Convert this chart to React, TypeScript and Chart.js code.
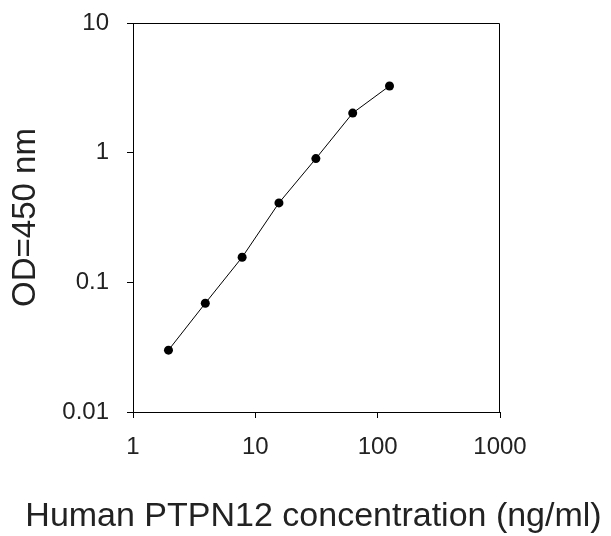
import React, { useEffect, useRef } from "react";
import { Chart, registerables } from "chart.js";

Chart.register(...registerables);

const concentrations = [1.95, 3.9, 7.8, 15.6, 31.25, 62.5, 125];
const odValues = [0.03, 0.069, 0.156, 0.41, 0.9, 2.02, 3.27];
const xTickValues = [1, 10, 100, 1000];
const yTickValues = [0.01, 0.1, 1, 10];
const xTitle = "Human PTPN12 concentration (ng/ml)";
const yTitle = "OD=450 nm";

const FONT = "Arial, 'Liberation Sans', Helvetica, sans-serif";

const framePlugin = {
  id: "frameBox",
  afterDraw(chart: any) {
    const { ctx, chartArea } = chart;
    const { left, right, top, bottom } = chartArea;
    ctx.save();
    ctx.strokeStyle = "#000";
    ctx.lineWidth = 1;
    ctx.beginPath();
    ctx.moveTo(Math.round(left) + 0.5, Math.round(top) + 0.5);
    ctx.lineTo(Math.round(right) - 0.5, Math.round(top) + 0.5);
    ctx.lineTo(Math.round(right) - 0.5, Math.round(bottom) + 0.5);
    ctx.stroke();
    ctx.restore();
  },
};

// Wide x-axis title: Chart.js clamps the scale title to the scale width,
// so the (wider) title is drawn here, centred on the canvas.
const xTitlePlugin = {
  id: "wideXTitle",
  afterDraw(chart: any) {
    const { ctx, width } = chart;
    ctx.save();
    ctx.fillStyle = "#222";
    ctx.font = `34px ${FONT}`;
    ctx.textAlign = "center";
    ctx.textBaseline = "alphabetic";
    ctx.fillText(xTitle, width / 2 + 8, 526);
    ctx.restore();
  },
};

export default function App() {
  const ref = useRef<HTMLCanvasElement | null>(null);

  useEffect(() => {
    if (!ref.current) return;
    const points = concentrations.map((c, i) => ({ x: c, y: odValues[i] }));
    const chart = new Chart(ref.current, {
      type: "line",
      data: {
        datasets: [
          {
            data: points,
            borderColor: "#000",
            backgroundColor: "#000",
            borderWidth: 1,
            pointRadius: 4.5,
            pointBackgroundColor: "#000",
            pointBorderColor: "#000",
            pointBorderWidth: 0,
            tension: 0,
            fill: false,
          },
        ],
      },
      options: {
        animation: false,
        responsive: false,
        devicePixelRatio: 1,
        layout: { padding: { left: 0, right: 111, top: 23, bottom: 0 } },
        plugins: {
          legend: { display: false },
          tooltip: { enabled: false },
          title: { display: false },
        },
        scales: {
          x: {
            type: "logarithmic",
            position: "bottom",
            min: 1,
            max: 1000,
            afterBuildTicks: (scale: any) => {
              scale.ticks = xTickValues.map((v) => ({ value: v }));
            },
            afterFit: (scale: any) => {
              scale.height = 124;
              scale.paddingLeft = 0;
              scale.paddingRight = 0;
            },
            ticks: {
              autoSkip: false,
              maxRotation: 0,
              minRotation: 0,
              padding: 15,
              color: "#222",
              font: { family: FONT, size: 24 },
              callback: (v: any) => String(v),
            },
            grid: {
              display: true,
              drawOnChartArea: false,
              drawTicks: true,
              tickLength: 6,
              color: "#000",
              lineWidth: 1,
            },
            border: { display: true, color: "#000", width: 1 },
            title: { display: false, text: xTitle },
          },
          y: {
            type: "logarithmic",
            position: "left",
            min: 0.01,
            max: 10,
            afterBuildTicks: (scale: any) => {
              scale.ticks = yTickValues.map((v) => ({ value: v }));
            },
            afterFit: (scale: any) => {
              scale.width = 133;
              scale.paddingTop = 0;
              scale.paddingBottom = 0;
            },
            ticks: {
              autoSkip: false,
              padding: 18,
              color: "#222",
              font: { family: FONT, size: 24 },
              callback: (v: any) => String(v),
            },
            grid: {
              display: true,
              drawOnChartArea: false,
              drawTicks: true,
              tickLength: 6,
              color: "#000",
              lineWidth: 1,
            },
            border: { display: true, color: "#000", width: 1 },
            title: {
              display: true,
              text: yTitle,
              color: "#222",
              font: { family: FONT, size: 33 },
              padding: { top: 6, bottom: 0 },
            },
          },
        },
      },
      plugins: [framePlugin, xTitlePlugin],
    });
    return () => chart.destroy();
  }, []);

  return (
    <div style={{ position: "fixed", left: 0, top: 0, width: 611, height: 536, background: "#fff" }}>
      <canvas ref={ref} width={611} height={536} style={{ width: 611, height: 536, display: "block" }} />
    </div>
  );
}
